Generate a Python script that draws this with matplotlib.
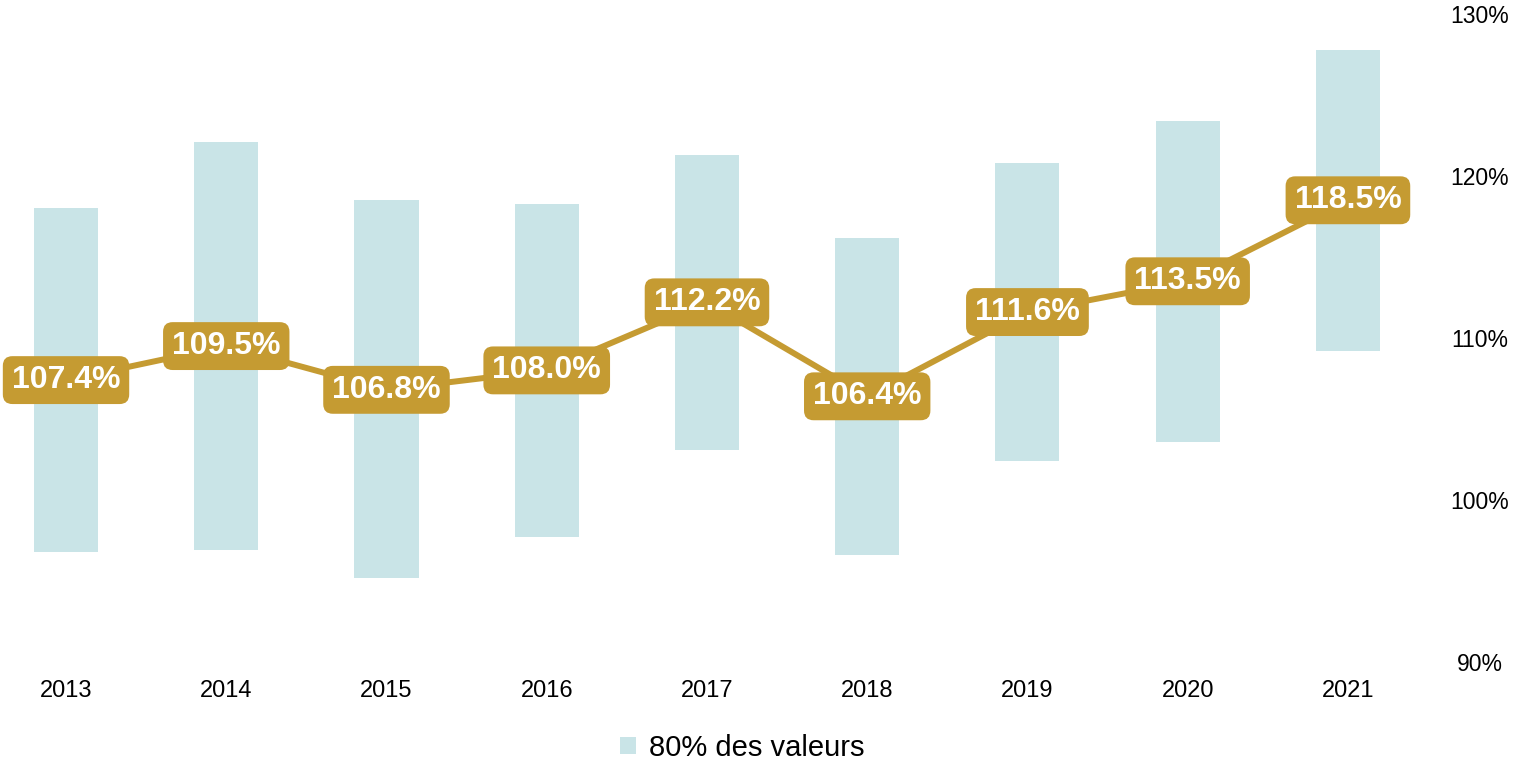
import matplotlib.pyplot as plt
from matplotlib.patches import Patch

plt.rcParams['font.family'] = ['Liberation Sans', 'DejaVu Sans']

# data
years = ['2013', '2014', '2015', '2016', '2017', '2018', '2019', '2020', '2021']
median = [107.4, 109.5, 106.8, 108.0, 112.2, 106.4, 111.6, 113.5, 118.5]
band_low = [96.8, 96.9, 95.2, 97.7, 103.1, 96.6, 102.4, 103.6, 109.2]
band_high = [118.0, 122.1, 118.5, 118.3, 121.3, 116.2, 120.8, 123.4, 127.8]

gold = '#C59B32'
teal = '#C9E4E7'

fig = plt.figure(figsize=(15.15, 7.59), dpi=100)
ax = fig.add_axes([0.0, 0.1278, 0.9426, 0.8538])

x = list(range(len(years)))
heights = [h - l for h, l in zip(band_high, band_low)]
ax.bar(x, heights, bottom=band_low, width=0.4, color=teal, zorder=1)
ax.plot(x, median, color=gold, linewidth=4.3, zorder=2)

for xi, v in zip(x, median):
    ax.text(xi, v, f'{v:.1f}%', ha='center', va='center', color='white',
            fontsize=23, fontweight='bold', zorder=3,
            bbox=dict(boxstyle='round,pad=0.28,rounding_size=0.3',
                      facecolor=gold, edgecolor='none'))

ax.set_xlim(-0.412, 8.5)
ax.set_ylim(90, 130)
ax.set_xticks(x)
ax.set_xticklabels(years, fontsize=17)
ax.set_yticks([90, 100, 110, 120, 130])
ax.set_yticklabels(['90%', '100%', '110%', '120%', '130%'], fontsize=16.5)
ax.yaxis.tick_right()
for lab in ax.get_yticklabels():
    lab.set_horizontalalignment('center')
ax.tick_params(axis='y', length=0, pad=37)
ax.tick_params(axis='x', length=0, pad=13)
for s in ax.spines.values():
    s.set_visible(False)

fig.legend(handles=[Patch(facecolor=teal, edgecolor='none', label='80% des valeurs')],
           loc='center', bbox_to_anchor=(0.49, 0.015), frameon=False,
           fontsize=21, handlelength=0.55, handleheight=0.55, handletextpad=0.42)

fig.savefig('out.png', dpi=100)
